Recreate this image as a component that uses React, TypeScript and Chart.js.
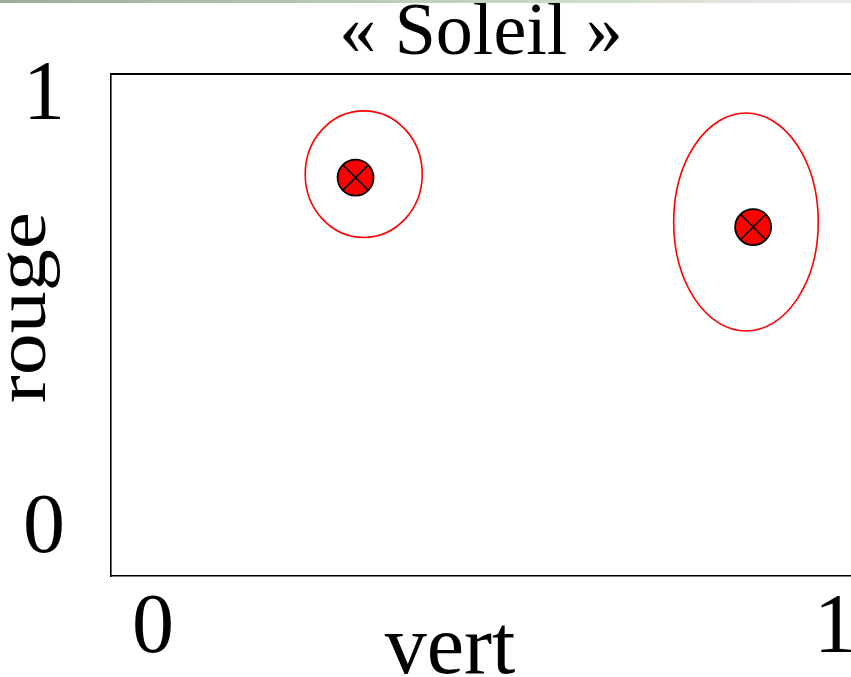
import React, { useEffect, useRef } from "react";
import { Chart, registerables } from "chart.js";

Chart.register(...registerables);

// ---- data ----
const titleText = "« Soleil »";
const xAxisLabel = "vert";
const yAxisLabel = "rouge";
const tickValues = [0, 1];
const tickLabels = ["0", "1"];
const xRange = [-0.0616, 1.0235];
const yRange = [-0.106, 1.052];
const pointX = [0.297, 0.88];
const pointY = [0.813, 0.699];
const ellipseCX = [0.309, 0.8695];
const ellipseCY = [0.821, 0.7105];
const ellipseRX = [0.0858, 0.106];
const ellipseRY = [0.146, 0.2514];

const SERIF = "'Liberation Serif', 'Times New Roman', serif";

const ellipsePlugin = {
  id: "ellipses",
  beforeDatasetsDraw(chart: any) {
    const { ctx, scales } = chart;
    const x = scales.x;
    const y = scales.y;
    ctx.save();
    ctx.strokeStyle = "#ff0000";
    ctx.lineWidth = 1.6;
    ellipseCX.forEach((cx, i) => {
      const px = x.getPixelForValue(cx);
      const py = y.getPixelForValue(ellipseCY[i]);
      const rx = Math.abs(x.getPixelForValue(cx + ellipseRX[i]) - px);
      const ry = Math.abs(y.getPixelForValue(ellipseCY[i] + ellipseRY[i]) - py);
      ctx.beginPath();
      ctx.ellipse(px, py, rx, ry, 0, 0, Math.PI * 2);
      ctx.stroke();
    });
    ctx.restore();
  },
};

const framePlugin = {
  id: "frameAndLabels",
  afterDraw(chart: any) {
    const { ctx, chartArea, scales } = chart;
    ctx.save();
    // top frame line
    ctx.strokeStyle = "#000";
    ctx.lineWidth = 2;
    ctx.beginPath();
    ctx.moveTo(chartArea.left, chartArea.top);
    ctx.lineTo(chartArea.right, chartArea.top);
    ctx.stroke();

    ctx.fillStyle = "#000";
    ctx.font = `84px ${SERIF}`;

    // x tick labels, placed by the x scale
    ctx.textAlign = "center";
    ctx.textBaseline = "middle";
    tickValues.forEach((v, i) => {
      ctx.fillText(tickLabels[i], scales.x.getPixelForValue(v), chartArea.bottom + 54);
    });

    // x axis label
    ctx.textBaseline = "alphabetic";
    ctx.fillText(xAxisLabel, 450, 673);

    // y axis label (rotated, slightly condensed in height)
    ctx.translate(45, 307.5);
    ctx.rotate(-Math.PI / 2);
    ctx.scale(1, 0.85);
    ctx.fillText(yAxisLabel, 0, 0);
    ctx.restore();
  },
};

export default function App() {
  const canvasRef = useRef<HTMLCanvasElement | null>(null);

  useEffect(() => {
    const canvas = canvasRef.current;
    if (!canvas) return;
    const points = pointX.map((x, i) => ({ x, y: pointY[i] }));
    const tickCallback = (value: any) => {
      const idx = tickValues.indexOf(Number(value));
      return idx >= 0 ? tickLabels[idx] : "";
    };
    const chart = new Chart(canvas, {
      type: "scatter",
      data: {
        datasets: [
          {
            data: points,
            pointStyle: "crossRot",
            pointRadius: 18,
            borderColor: "#000",
            borderWidth: 1.6,
            order: 0,
          } as any,
          {
            data: points,
            pointStyle: "circle",
            pointRadius: 18,
            backgroundColor: "#ff0000",
            borderColor: "#000",
            borderWidth: 1.8,
            order: 1,
          } as any,
        ],
      },
      options: {
        animation: false,
        responsive: false,
        devicePixelRatio: 1,
        events: [],
        layout: { padding: 0, autoPadding: false },
        plugins: {
          legend: { display: false },
          tooltip: { enabled: false },
          title: {
            display: true,
            text: titleText,
            fullSize: false,
            color: "#000",
            font: { family: SERIF, size: 74, weight: "normal", lineHeight: 1 },
            padding: { top: -2, bottom: 2 },
          },
        },
        scales: {
          x: {
            type: "linear",
            min: xRange[0],
            max: xRange[1],
            afterBuildTicks: (scale: any) => {
              scale.ticks = tickValues.map((v) => ({ value: v }));
            },
            afterFit: (scale: any) => {
              scale.height = 101;
              scale.paddingLeft = 0;
              scale.paddingRight = 0;
            },
            grid: { display: false, drawTicks: false },
            border: { display: true, color: "#000", width: 1.6 },
            ticks: { display: false },
          },
          y: {
            type: "linear",
            min: yRange[0],
            max: yRange[1],
            afterBuildTicks: (scale: any) => {
              scale.ticks = tickValues.map((v) => ({ value: v }));
            },
            afterFit: (scale: any) => {
              scale.width = 111;
              scale.paddingTop = 0;
              scale.paddingBottom = 0;
            },
            grid: { display: false, drawTicks: false },
            border: { display: true, color: "#000", width: 1.6 },
            ticks: {
              color: "#000",
              font: { family: SERIF, size: 84, lineHeight: 1 },
              padding: 46,
              autoSkip: false,
              callback: tickCallback,
            },
          },
        },
      },
      plugins: [ellipsePlugin, framePlugin],
    } as any);
    return () => chart.destroy();
  }, []);

  return (
    <div style={{ position: "fixed", left: 0, top: 0, width: 851, height: 677, background: "#fff" }}>
      <canvas ref={canvasRef} width={851} height={677} style={{ display: "block", width: 851, height: 677 }} />
      <div
        style={{
          position: "absolute",
          left: 0,
          top: 0,
          width: 851,
          height: 3,
          background: "linear-gradient(to right, #9ab095, #e8ece6)",
        }}
      />
    </div>
  );
}
